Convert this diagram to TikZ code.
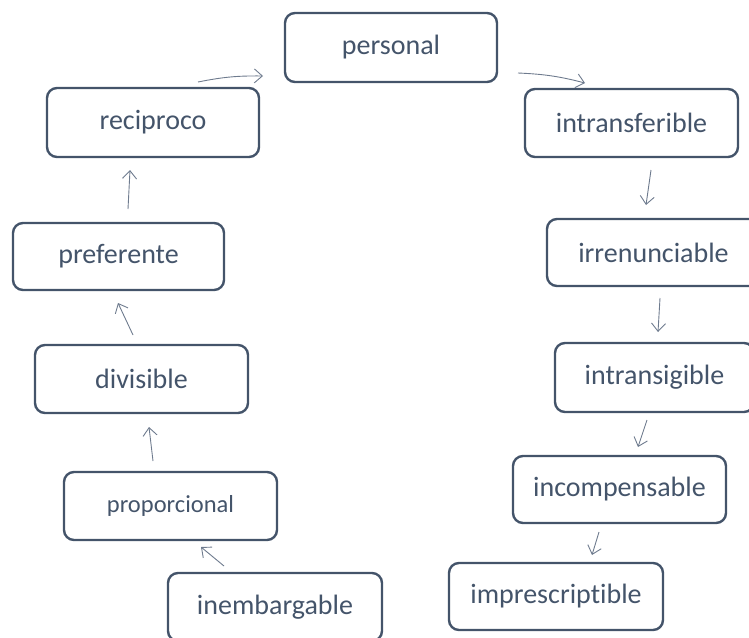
\documentclass[tikz,border=0pt]{standalone}
\usepackage{fontspec}
\setmainfont{Carlito}[Ligatures=NoCommon]
\usetikzlibrary{arrows.meta}
\definecolor{boxc}{HTML}{44546A}
\definecolor{arrc}{HTML}{6E7B8E}
\tikzset{
  box/.style={draw=boxc, line width=2.4pt, rounded corners=10pt, text=boxc,
    inner sep=0pt, minimum width=213pt, minimum height=68pt,
    font=\fontsize{28}{30}\selectfont},
  smallbox/.style={box, font=\fontsize{24.5}{27}\selectfont},
  arr/.style={draw=arrc, line width=0.9pt, -{Straight Barb[length=8pt,width=14pt,line width=0.9pt]}}
}
\begin{document}
\begin{tikzpicture}[x=1pt,y=-1pt]
\useasboundingbox (0,0) rectangle (749,637);
\node[box, minimum width=212, minimum height=69] (per) at (391,47.5) {personal};
\node[box] (itf) at (631.5,123) {intransferible};
\node[box, minimum height=67] (irr) at (653.5,252.5) {irrenunciable};
\node[box, minimum width=199, minimum height=69] (itg) at (654.5,377.5) {intransigible};
\node[box, minimum height=67] (inc) at (619.5,489.5) {incompensable};
\node[box, minimum width=214, minimum height=67] (imp) at (556,596.5) {imprescriptible};
\node[box, minimum width=212, minimum height=69] (rec) at (153,122.5) {reciproco};
\node[box, minimum width=211, minimum height=67] (pre) at (118.5,256.5) {preferente};
\node[box] (div) at (141.5,379) {divisible};
\node[smallbox] (pro) at (170.5,506) {proporcional};
\node[box, minimum width=214] (ine) at (275,607) {inembargable};

\draw[arr] ([shift={(45,-40.5)}]rec.center) to[bend left=6] ([shift={(-128,28.5)}]per.center);
\draw[arr] ([shift={(127,25.5)}]per.center) to[bend left=6] ([shift={(-46.5,-40)}]itf.center);
\draw[arr] ([shift={(19.5,47)}]itf.center) -- ([shift={(-7.5,-47.5)}]irr.center);
\draw[arr] ([shift={(6.5,45.5)}]irr.center) -- ([shift={(3.5,-45.5)}]itg.center);
\draw[arr] ([shift={(-7.5,42.5)}]itg.center) -- ([shift={(18.5,-42.5)}]inc.center);
\draw[arr] ([shift={(-20.5,42.5)}]inc.center) -- ([shift={(36,-41.5)}]imp.center);
\draw[arr] ([shift={(-51,-41)}]ine.center) -- ([shift={(30.5,41)}]pro.center);
\draw[arr] ([shift={(-17.5,-45)}]pro.center) -- ([shift={(7.5,48)}]div.center);
\draw[arr] ([shift={(-8.5,-44)}]div.center) -- ([shift={(-0.5,46.5)}]pre.center);
\draw[arr] ([shift={(9.5,-47.5)}]pre.center) -- ([shift={(-23,47.5)}]rec.center);
\end{tikzpicture}
\end{document}
